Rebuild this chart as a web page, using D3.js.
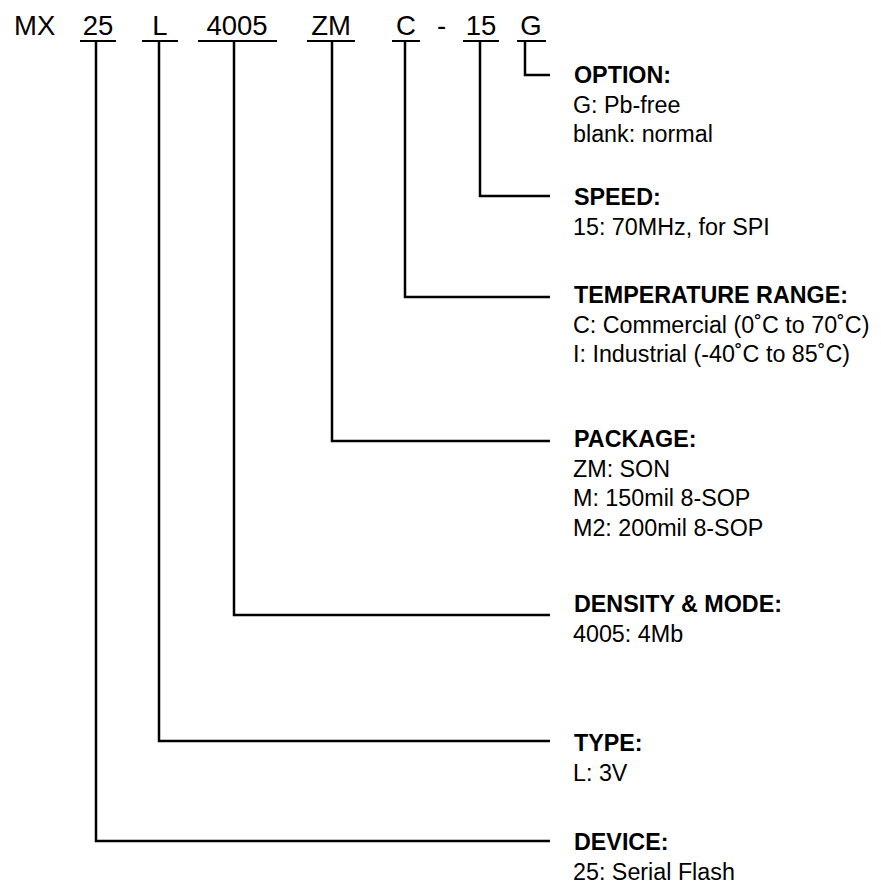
<!DOCTYPE html>
<html>
<head>
<meta charset="utf-8">
<script src="https://cdn.jsdelivr.net/npm/d3@7"></script>
<style>
  html, body { margin: 0; padding: 0; background: #fff; }
  svg { display: block; }
  text { font-family: "Liberation Sans", Arial, Helvetica, sans-serif; fill: #000; }
</style>
</head>
<body>
<svg id="chart" width="881" height="886"></svg>
<script>
// ---- data ----
const prefix = "MX";
const segments = ["25", "L", "4005", "ZM", "C", "15", "G"];
const separatorAfter = "C";   // a "-" is printed after this segment
const headers = ["DEVICE:", "TYPE:", "DENSITY & MODE:", "PACKAGE:", "TEMPERATURE RANGE:", "SPEED:", "OPTION:"];
const descriptions = [
  ["25: Serial Flash"],
  ["L: 3V"],
  ["4005: 4Mb"],
  ["ZM: SON", "M: 150mil 8-SOP", "M2: 200mil 8-SOP"],
  ["C: Commercial (0˚C to 70˚C)", "I: Industrial (-40˚C to 85˚C)"],
  ["15: 70MHz, for SPI"],
  ["G: Pb-free", "blank: normal"]
];

// ---- layout (positions, not data) ----
const segCenter = [98, 160, 237, 331, 406, 481, 531];   // text centre of each code segment
const segLead   = [96, 159, 234, 332, 405, 480, 525];   // x of each leader's vertical
const segUnder  = [[80,116],[142,178],[198,277],[307,355],[392,420],[463,499],[517,546]];
const lineY     = [841, 741, 615, 441, 297, 196, 75];
const headBase  = [850, 751, 612, 447, 303, 205, 83];
const topBase = 35, underY = 41, lineEnd = 550, textX = 573, lineGap = 29.5;
const topFont = 27.5, labFont = 23.3;

const svg = d3.select("#chart");

// scale mapping segment index -> its positions
const idx = d3.scaleOrdinal().domain(segments).range(d3.range(segments.length));

// top row
svg.append("text").attr("x", 14).attr("y", topBase)
  .style("font-size", topFont + "px").text(prefix);

svg.selectAll("text.seg").data(segments).join("text")
  .attr("class", "seg")
  .attr("x", d => segCenter[idx(d)])
  .attr("y", topBase)
  .attr("text-anchor", "middle")
  .style("font-size", topFont + "px")
  .text(d => d);

svg.append("text")
  .attr("x", (segUnder[idx(separatorAfter)][1] + segUnder[idx(separatorAfter) + 1][0]) / 2)
  .attr("y", topBase).attr("text-anchor", "middle")
  .style("font-size", topFont + "px").text("-");

// underlines
svg.selectAll("line.under").data(segments).join("line")
  .attr("class", "under")
  .attr("x1", d => segUnder[idx(d)][0]).attr("x2", d => segUnder[idx(d)][1])
  .attr("y1", underY).attr("y2", underY)
  .attr("stroke", "#000").attr("stroke-width", 2);

// leaders
const line = d3.line();
svg.selectAll("path.leader").data(segments).join("path")
  .attr("class", "leader")
  .attr("d", d => {
    const i = idx(d);
    return line([[segLead[i], underY], [segLead[i], lineY[i]], [lineEnd, lineY[i]]]);
  })
  .attr("fill", "none").attr("stroke", "#000").attr("stroke-width", 2.5);

// labels
const groups = svg.selectAll("g.lab").data(headers).join("g").attr("class", "lab");
groups.append("text")
  .attr("x", textX + 1).attr("y", (d, i) => headBase[i])
  .style("font-size", labFont + "px").style("font-weight", "bold")
  .text(d => d);
groups.each(function(d, i) {
  d3.select(this).selectAll("text.desc").data(descriptions[i]).join("text")
    .attr("class", "desc")
    .attr("x", textX)
    .attr("y", (t, k) => headBase[i] + lineGap * (k + 1))
    .style("font-size", labFont + "px")
    .text(t => t);
});
</script>
</body>
</html>
